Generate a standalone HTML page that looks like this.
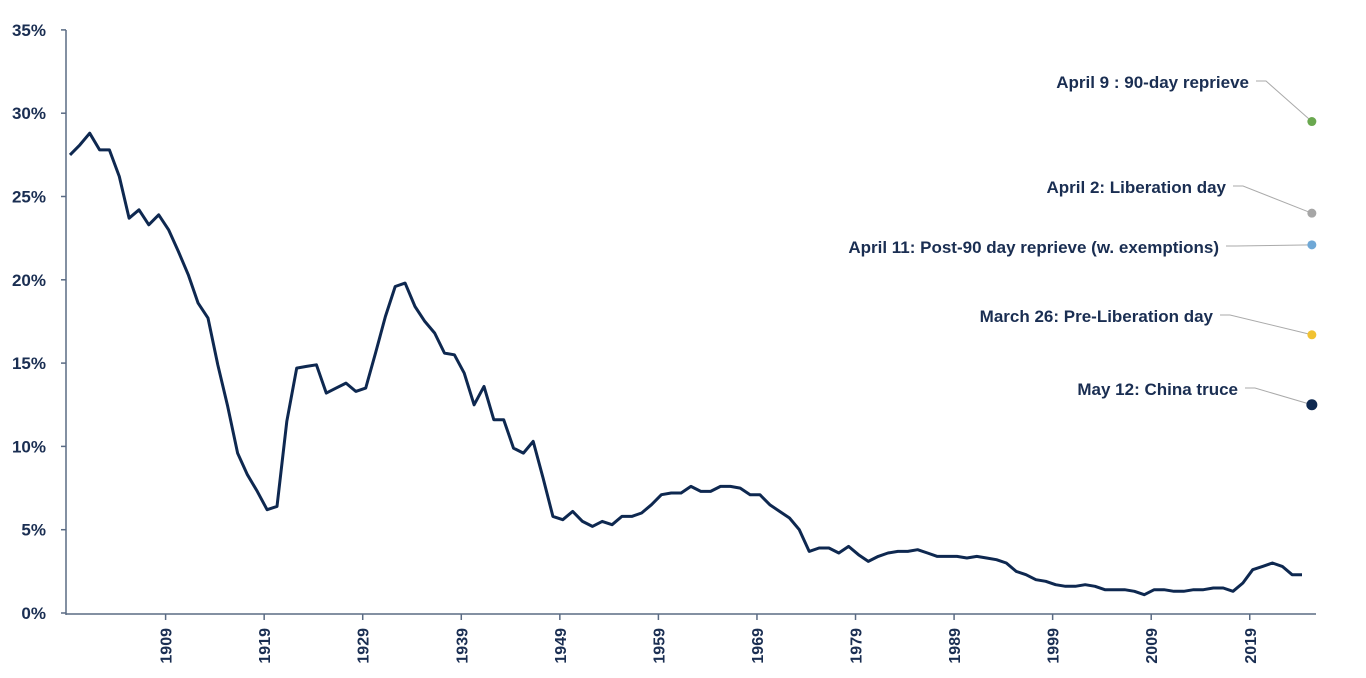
<!DOCTYPE html>
<html><head><meta charset="utf-8"><style>
body{margin:0;background:#fff;}
svg{display:block;font-family:"Liberation Sans",sans-serif;font-weight:bold;fill:#1a2e52;}
</style></head><body>
<svg id="chart" width="1366" height="678" viewBox="0 0 1366 678" xmlns="http://www.w3.org/2000/svg"></svg>
<script>
const startYear = 1900;
const rates = [27.5,28.1,28.8,27.8,27.8,26.2,23.7,24.2,23.3,23.9,23.0,21.7,20.3,18.6,17.7,14.9,12.4,9.6,8.3,7.3,
6.2,6.4,11.5,14.7,14.8,14.9,13.2,13.5,13.8,13.3,13.5,15.6,17.8,19.6,19.8,18.4,17.5,16.8,15.6,15.5,
14.4,12.5,13.6,11.6,11.6,9.9,9.6,10.3,8.1,
5.8,5.6,6.1,5.5,5.2,5.5,5.3,5.8,5.8,6.0,
6.5,7.1,7.2,7.2,7.6,7.3,7.3,7.6,7.6,7.5,
7.1,7.1,6.5,6.1,5.7,5.0,3.7,3.9,3.9,3.6,
4.0,3.5,3.1,3.4,3.6,3.7,3.7,3.8,3.6,3.4,
3.4,3.4,3.3,3.4,3.3,3.2,3.0,2.5,2.3,2.0,
1.9,1.7,1.6,1.6,1.7,1.6,1.4,1.4,1.4,1.3,
1.1,1.4,1.4,1.3,1.3,1.4,1.4,1.5,1.5,1.3,
1.8,2.6,2.8,3.0,2.8,2.3,2.3];
const yTicks = [0,5,10,15,20,25,30,35];
const xTickYears = [1909,1919,1929,1939,1949,1959,1969,1979,1989,1999,2009,2019];
const eventLabels = ["April 9 : 90-day reprieve","April 2: Liberation day","April 11: Post-90 day reprieve (w. exemptions)","March 26: Pre-Liberation day","May 12: China truce"];
const eventRates = [29.5,24.0,22.1,16.7,12.5];
const eventColors = ["#6aa84f","#a6a6a6","#6fa8d6","#f1c232","#0e2850"];
const eventLabelY = [82,187,247,316,389];
const eventLabelEnd = [1249,1226,1219,1213,1238];

const svg = document.getElementById('chart');
const NS = 'http://www.w3.org/2000/svg';
const x = yr => 70 + (yr - startYear) * 9.856;
const y = v => 613 - v * 16.66;
function mk(tag, attrs){const e=document.createElementNS(NS,tag);for(const k in attrs)e.setAttribute(k,attrs[k]);svg.appendChild(e);return e;}

const yAxis = mk('line',{x1:66,y1:30,x2:66,y2:615,stroke:'#5a6b84','stroke-width':1.5});


const xAxis = mk('line',{x1:66,y1:614,x2:1316,y2:614,stroke:'#5a6b84','stroke-width':1.5});



yTicks.forEach(t=>{
  const tk = mk('line',{x1:61,y1:y(t),x2:66,y2:y(t),stroke:'#5a6b84','stroke-width':1.5});
  
  
  const lb = mk('text',{x:46,y:y(t)+6,'text-anchor':'end','font-size':17});
  lb.textContent = t + '%';
  
  
});
xTickYears.forEach(yr=>{
  const px = x(yr + 0.7);
  const tk = mk('line',{x1:px,y1:614,x2:px,y2:620,stroke:'#5a6b84','stroke-width':1.5});
  
  
  const lb = mk('text',{x:0,y:0,'text-anchor':'end','font-size':16,transform:`translate(${px+6},628) rotate(-90)`});
  lb.textContent = yr;
  
  
});

const pts = rates.map((v,i)=>x(startYear+i).toFixed(1)+','+y(v).toFixed(1)).join(' ');
const line = mk('polyline',{points:pts,fill:'none',stroke:'#0e2850','stroke-width':3,'stroke-linejoin':'round'});



eventLabels.forEach((txt,i)=>{
  const dx = x(2026), dy = y(eventRates[i]);
  const sx = eventLabelEnd[i] + 7, sy = eventLabelY[i] - 1;
  const ld = mk('polyline',{points:`${sx},${sy} ${sx+10},${sy} ${dx},${dy}`,fill:'none',stroke:'#aaa','stroke-width':1});
  
  
  const c = mk('circle',{cx:dx,cy:dy,r:i===4?5.5:4.5,fill:eventColors[i]});
  
  
  const t = mk('text',{x:eventLabelEnd[i],y:eventLabelY[i]+6,'text-anchor':'end','font-size':17});
  t.textContent = txt;
  
  
});
</script>
</body></html>
